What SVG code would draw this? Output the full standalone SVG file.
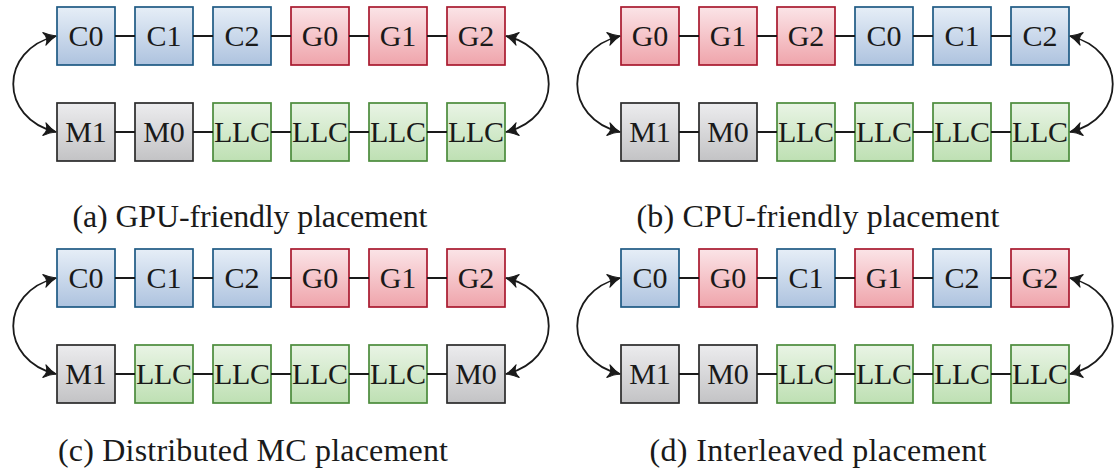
<svg xmlns="http://www.w3.org/2000/svg" width="1120" height="472" viewBox="0 0 1120 472">
<defs>
<linearGradient id="gb" x1="0" y1="0" x2="0" y2="1"><stop offset="0" stop-color="#e6eef7"/><stop offset="1" stop-color="#aec3df"/></linearGradient>
<linearGradient id="gr" x1="0" y1="0" x2="0" y2="1"><stop offset="0" stop-color="#fbe4e7"/><stop offset="1" stop-color="#efa4ab"/></linearGradient>
<linearGradient id="gg" x1="0" y1="0" x2="0" y2="1"><stop offset="0" stop-color="#ececee"/><stop offset="1" stop-color="#c3c3c5"/></linearGradient>
<linearGradient id="gn" x1="0" y1="0" x2="0" y2="1"><stop offset="0" stop-color="#e9f4e5"/><stop offset="1" stop-color="#bee0b3"/></linearGradient>
<marker id="ah" viewBox="-14 -8 16 16" refX="0" refY="0" markerWidth="16" markerHeight="16" markerUnits="userSpaceOnUse" orient="auto-start-reverse">
<path d="M0,0 Q-6,-2 -12,-6.5 Q-7.5,0 -12,6.5 Q-6,2 0,0 Z" fill="#1a1a1a" stroke="#1a1a1a" stroke-width="1" stroke-linejoin="round"/>
</marker>
</defs>
<style>
rect{stroke-width:1.7}
.b{fill:url(#gb);stroke:#1e5a84}
.r{fill:url(#gr);stroke:#a8192e}
.g{fill:url(#gg);stroke:#2a2a2a}
.n{fill:url(#gn);stroke:#4b8b3b}
text{font-family:"Liberation Serif","Times New Roman",serif;fill:#1a1a1a}
.t{font-size:30px;text-anchor:middle}
.cap{font-size:32px;text-anchor:middle}
.ln{stroke:#1a1a1a;stroke-width:1.8;fill:none}
.arc{stroke:#1a1a1a;stroke-width:1.8;fill:none;marker-start:url(#ah);marker-end:url(#ah)}
</style>

<!-- Panel (a) -->
<g id="a-C0"><rect class="b" x="57" y="7" width="58" height="58"/><text class="t" x="86" y="46">C0</text></g>
<g id="a-C1"><rect class="b" x="135" y="7" width="58" height="58"/><text class="t" x="164" y="46">C1</text></g>
<g id="a-C2"><rect class="b" x="213" y="7" width="58" height="58"/><text class="t" x="242" y="46">C2</text></g>
<g id="a-G0"><rect class="r" x="291" y="7" width="58" height="58"/><text class="t" x="320" y="46">G0</text></g>
<g id="a-G1"><rect class="r" x="369" y="7" width="58" height="58"/><text class="t" x="398" y="46">G1</text></g>
<g id="a-G2"><rect class="r" x="447" y="7" width="58" height="58"/><text class="t" x="476" y="46">G2</text></g>
<g id="a-M1"><rect class="g" x="57" y="103" width="58" height="58"/><text class="t" x="86" y="142">M1</text></g>
<g id="a-M0"><rect class="g" x="135" y="103" width="58" height="58"/><text class="t" x="164" y="142">M0</text></g>
<g id="a-LLC0"><rect class="n" x="213" y="103" width="58" height="58"/><text class="t" x="242" y="142" textLength="56">LLC</text></g>
<g id="a-LLC1"><rect class="n" x="291" y="103" width="58" height="58"/><text class="t" x="320" y="142" textLength="56">LLC</text></g>
<g id="a-LLC2"><rect class="n" x="369" y="103" width="58" height="58"/><text class="t" x="398" y="142" textLength="56">LLC</text></g>
<g id="a-LLC3"><rect class="n" x="447" y="103" width="58" height="58"/><text class="t" x="476" y="142" textLength="56">LLC</text></g>
<text id="cap-a" class="cap" x="250" y="227" textLength="355">(a) GPU-friendly placement</text>

<!-- Panel (b) -->
<g id="b-G0"><rect class="r" x="621" y="7" width="58" height="58"/><text class="t" x="650" y="46">G0</text></g>
<g id="b-G1"><rect class="r" x="699" y="7" width="58" height="58"/><text class="t" x="728" y="46">G1</text></g>
<g id="b-G2"><rect class="r" x="777" y="7" width="58" height="58"/><text class="t" x="806" y="46">G2</text></g>
<g id="b-C0"><rect class="b" x="855" y="7" width="58" height="58"/><text class="t" x="884" y="46">C0</text></g>
<g id="b-C1"><rect class="b" x="933" y="7" width="58" height="58"/><text class="t" x="962" y="46">C1</text></g>
<g id="b-C2"><rect class="b" x="1011" y="7" width="58" height="58"/><text class="t" x="1040" y="46">C2</text></g>
<g id="b-M1"><rect class="g" x="621" y="103" width="58" height="58"/><text class="t" x="650" y="142">M1</text></g>
<g id="b-M0"><rect class="g" x="699" y="103" width="58" height="58"/><text class="t" x="728" y="142">M0</text></g>
<g id="b-LLC0"><rect class="n" x="777" y="103" width="58" height="58"/><text class="t" x="806" y="142" textLength="56">LLC</text></g>
<g id="b-LLC1"><rect class="n" x="855" y="103" width="58" height="58"/><text class="t" x="884" y="142" textLength="56">LLC</text></g>
<g id="b-LLC2"><rect class="n" x="933" y="103" width="58" height="58"/><text class="t" x="962" y="142" textLength="56">LLC</text></g>
<g id="b-LLC3"><rect class="n" x="1011" y="103" width="58" height="58"/><text class="t" x="1040" y="142" textLength="56">LLC</text></g>
<text id="cap-b" class="cap" x="818" y="227" textLength="363">(b) CPU-friendly placement</text>

<!-- Panel (c) -->
<g id="c-C0"><rect class="b" x="57" y="249" width="58" height="58"/><text class="t" x="86" y="288">C0</text></g>
<g id="c-C1"><rect class="b" x="135" y="249" width="58" height="58"/><text class="t" x="164" y="288">C1</text></g>
<g id="c-C2"><rect class="b" x="213" y="249" width="58" height="58"/><text class="t" x="242" y="288">C2</text></g>
<g id="c-G0"><rect class="r" x="291" y="249" width="58" height="58"/><text class="t" x="320" y="288">G0</text></g>
<g id="c-G1"><rect class="r" x="369" y="249" width="58" height="58"/><text class="t" x="398" y="288">G1</text></g>
<g id="c-G2"><rect class="r" x="447" y="249" width="58" height="58"/><text class="t" x="476" y="288">G2</text></g>
<g id="c-M1"><rect class="g" x="57" y="345" width="58" height="58"/><text class="t" x="86" y="384">M1</text></g>
<g id="c-LLC0"><rect class="n" x="135" y="345" width="58" height="58"/><text class="t" x="164" y="384" textLength="56">LLC</text></g>
<g id="c-LLC1"><rect class="n" x="213" y="345" width="58" height="58"/><text class="t" x="242" y="384" textLength="56">LLC</text></g>
<g id="c-LLC2"><rect class="n" x="291" y="345" width="58" height="58"/><text class="t" x="320" y="384" textLength="56">LLC</text></g>
<g id="c-LLC3"><rect class="n" x="369" y="345" width="58" height="58"/><text class="t" x="398" y="384" textLength="56">LLC</text></g>
<g id="c-M0"><rect class="g" x="447" y="345" width="58" height="58"/><text class="t" x="476" y="384">M0</text></g>
<text id="cap-c" class="cap" x="253" y="461" textLength="390">(c) Distributed MC placement</text>

<!-- Panel (d) -->
<g id="d-C0"><rect class="b" x="621" y="249" width="58" height="58"/><text class="t" x="650" y="288">C0</text></g>
<g id="d-G0"><rect class="r" x="699" y="249" width="58" height="58"/><text class="t" x="728" y="288">G0</text></g>
<g id="d-C1"><rect class="b" x="777" y="249" width="58" height="58"/><text class="t" x="806" y="288">C1</text></g>
<g id="d-G1"><rect class="r" x="855" y="249" width="58" height="58"/><text class="t" x="884" y="288">G1</text></g>
<g id="d-C2"><rect class="b" x="933" y="249" width="58" height="58"/><text class="t" x="962" y="288">C2</text></g>
<g id="d-G2"><rect class="r" x="1011" y="249" width="58" height="58"/><text class="t" x="1040" y="288">G2</text></g>
<g id="d-M1"><rect class="g" x="621" y="345" width="58" height="58"/><text class="t" x="650" y="384">M1</text></g>
<g id="d-M0"><rect class="g" x="699" y="345" width="58" height="58"/><text class="t" x="728" y="384">M0</text></g>
<g id="d-LLC0"><rect class="n" x="777" y="345" width="58" height="58"/><text class="t" x="806" y="384" textLength="56">LLC</text></g>
<g id="d-LLC1"><rect class="n" x="855" y="345" width="58" height="58"/><text class="t" x="884" y="384" textLength="56">LLC</text></g>
<g id="d-LLC2"><rect class="n" x="933" y="345" width="58" height="58"/><text class="t" x="962" y="384" textLength="56">LLC</text></g>
<g id="d-LLC3"><rect class="n" x="1011" y="345" width="58" height="58"/><text class="t" x="1040" y="384" textLength="56">LLC</text></g>
<text id="cap-d" class="cap" x="818" y="461" textLength="337">(d) Interleaved placement</text>

<!-- Connectors -->
<g id="connectors">
<path class="ln" d="M115,36H135M193,36H213M271,36H291M349,36H369M427,36H447M115,132H135M193,132H213M271,132H291M349,132H369M427,132H447"/>
<path class="ln" d="M679,36H699M757,36H777M835,36H855M913,36H933M991,36H1011M679,132H699M757,132H777M835,132H855M913,132H933M991,132H1011"/>
<path class="ln" d="M115,278H135M193,278H213M271,278H291M349,278H369M427,278H447M115,374H135M193,374H213M271,374H291M349,374H369M427,374H447"/>
<path class="ln" d="M679,278H699M757,278H777M835,278H855M913,278H933M991,278H1011M679,374H699M757,374H777M835,374H855M913,374H933M991,374H1011"/>
<path class="arc" d="M56,36C-1,50 -1,118 56,132"/>
<path class="arc" d="M506,36C563,50 563,118 506,132"/>
<path class="arc" d="M620,36C563,50 563,118 620,132"/>
<path class="arc" d="M1070,36C1127,50 1127,118 1070,132"/>
<path class="arc" d="M56,278C-1,292 -1,360 56,374"/>
<path class="arc" d="M506,278C563,292 563,360 506,374"/>
<path class="arc" d="M620,278C563,292 563,360 620,374"/>
<path class="arc" d="M1070,278C1127,292 1127,360 1070,374"/>
</g>
</svg>
